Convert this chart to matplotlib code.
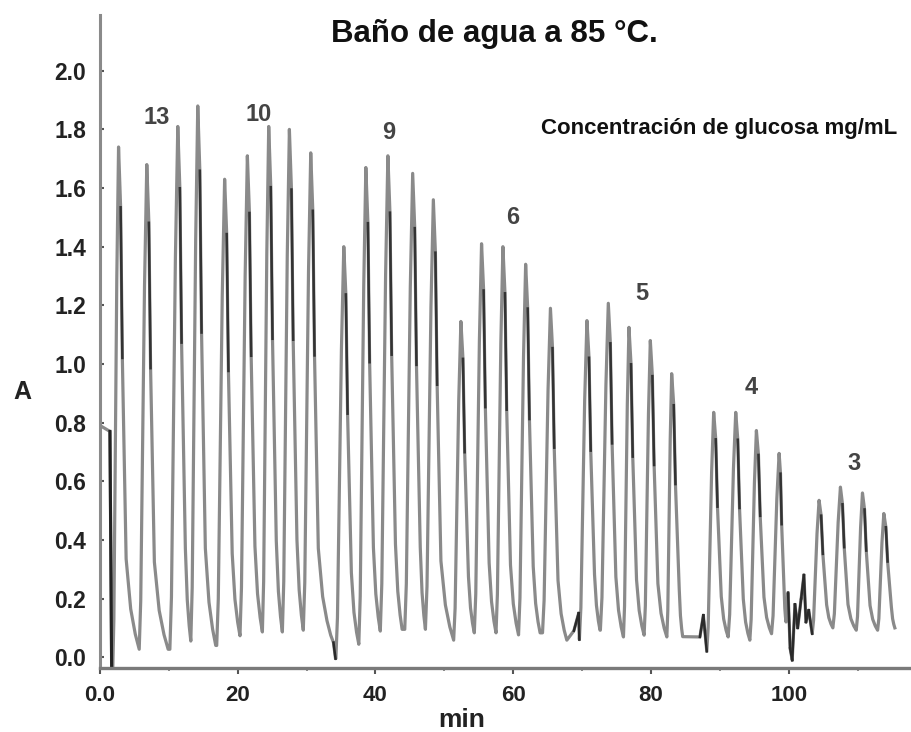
import numpy as np
import matplotlib.pyplot as plt

plt.rcParams['font.family'] = ['Liberation Sans', 'DejaVu Sans']

# apex of every injection peak: time (min) and absorbance
peak_t = [2.7, 6.8, 11.3, 14.2, 18.1, 21.4, 24.5, 27.5, 30.6, 35.4, 38.6, 41.8,
          45.4, 48.4, 52.4, 55.4, 58.5, 61.8, 65.4, 70.7, 73.8, 76.8, 79.9, 83.0,
          89.1, 92.3, 95.3, 98.6, 104.4, 107.5, 110.7, 113.8]
peak_h = [1.74, 1.68, 1.81, 1.88, 1.63, 1.71, 1.81, 1.80, 1.72, 1.40, 1.67, 1.71,
          1.65, 1.56, 1.145, 1.41, 1.40, 1.34, 1.19, 1.148, 1.207, 1.125, 1.08, 0.967,
          0.835, 0.835, 0.773, 0.695, 0.535, 0.58, 0.56, 0.49]

# baseline minimum reached after each peak
valley_t = [5.70, 9.90, 13.19, 16.81, 20.33, 23.58, 26.48, 29.52, 33.5, 37.58, 40.7, 43.87,
            47.25, 51.35, 54.35, 57.5, 60.77, 63.9, 67.78, 72.6, 76.0, 79.0, 82.3, 84.6,
            91.2, 94.35, 97.5, 99.6, 106.4, 109.8, 112.9, 115.4]
valley_v = [0.027, 0.027, 0.055, 0.04, 0.073, 0.086, 0.086, 0.092, 0.075, 0.044, 0.089, 0.095,
            0.095, 0.058, 0.083, 0.083, 0.076, 0.083, 0.058, 0.092, 0.069, 0.075, 0.069, 0.07,
            0.069, 0.058, 0.08, 0.12, 0.10, 0.092, 0.092, 0.10]

# baseline glitches between injections
glitch_t = [33.9, 34.2, 68.8, 69.5, 69.6, 87.1, 87.6, 88.1,
            99.9, 100.2, 100.5, 100.9, 101.3, 101.8, 102.2, 102.5, 102.9, 103.4]
glitch_v = [0.05, -0.005, 0.09, 0.15, 0.06, 0.069, 0.143, 0.02,
            0.22, 0.03, -0.01, 0.18, 0.10, 0.20, 0.28, 0.12, 0.16, 0.08]

# beginning of the record, before the first injection
start_t = [0.0, 0.02, 1.45, 1.7, 1.85]
start_v = [-0.02, 0.79, 0.77, -0.05, -0.05]

# glucose concentration written over each group of peaks
conc_labels = ['13', '10', '9', '6', '5', '4', '3']
conc_x = [8.3, 23.0, 41.9, 59.9, 78.6, 94.6, 109.5]
conc_y = [1.84, 1.85, 1.79, 1.50, 1.24, 0.92, 0.66]

# peak profile: steep rise, fast drop, slow tail back to baseline
RISE = 1.15
rise_pos = [0.2, 0.45, 0.7]
rise_frac = [0.1, 0.42, 0.75]
fall_dt = [0.3, 0.55, 0.85, 1.1]
fall_frac = [0.88, 0.58, 0.36, 0.18]
tail_pos = [0.35, 0.7]
tail_frac = [0.08, 0.03]

t_pts = list(start_t)
v_pts = list(start_v)
is_glitch = [False] * len(t_pts)
dark = []
for i, (tp, hp) in enumerate(zip(peak_t, peak_h)):
    for gt, gv in zip(glitch_t, glitch_v):
        if t_pts[-1] < gt < tp:
            t_pts.append(gt)
            v_pts.append(gv)
            is_glitch.append(True)
    t0 = max(t_pts[-1], tp - RISE)
    v0 = v_pts[-1]
    seg = []
    if t0 > t_pts[-1]:
        seg.append((t0, v0))
    for p, f in zip(rise_pos, rise_frac):
        seg.append((t0 + p * (tp - t0), v0 + f * (hp - v0)))
    seg.append((tp, hp))

    tv, vv = valley_t[i], valley_v[i]
    k = min(1.0, (tv - tp) / 1.5)
    fall = [(tp + dt * k, vv + f * (hp - vv)) for dt, f in zip(fall_dt, fall_frac)]
    seg += fall
    tail0 = fall[-1][0]
    for p, f in zip(tail_pos, tail_frac):
        seg.append((tail0 + p * (tv - tail0), vv + f * (hp - vv)))
    seg.append((tv, vv))
    for t, v in seg:
        t_pts.append(t)
        v_pts.append(v)
        is_glitch.append(False)
    # darker stroke on the upper part of the falling edge
    dark.append(([fall[0][0], fall[1][0]], [fall[0][1], fall[1][1]]))

fig = plt.figure(figsize=(9.12, 7.32), dpi=100)
ax = fig.add_axes([0.1096, 0.0874, 0.8882, 0.892])

ax.plot(t_pts, v_pts, color='#8a8a8a', lw=2.3)
for dt_, dv_ in dark:
    ax.plot(dt_, dv_, color='#333333', lw=1.8)
# noisy stretches of baseline show up darker
for j in range(1, len(t_pts)):
    if is_glitch[j] and is_glitch[j - 1]:
        ax.plot(t_pts[j - 1:j + 1], v_pts[j - 1:j + 1], color='#2a2a2a', lw=1.8)
ax.plot(start_t[2:4], start_v[2:4], color='#222222', lw=2.2)
ax.plot(start_t[:2], start_v[:2], color='#333333', lw=2.0)

ax.set_xlim(0, 117.6)
ax.set_ylim(-0.037, 2.19)

for s in ['top', 'right']:
    ax.spines[s].set_visible(False)
ax.spines['left'].set_color('#8a8a8a')
ax.spines['left'].set_linewidth(2.2)
ax.spines['bottom'].set_color('#7a7a7a')
ax.spines['bottom'].set_linewidth(2.4)

ax.set_yticks(np.arange(0, 2.01, 0.2))
ax.set_yticklabels([f'{v:.1f}' for v in np.arange(0, 2.01, 0.2)])
ax.set_xticks([0, 20, 40, 60, 80, 100])
ax.set_xticklabels(['0.0', '20', '40', '60', '80', '100'])
ax.set_xticks(np.arange(10, 120, 20), minor=True)
ax.tick_params(axis='y', direction='in', length=3, width=1.5, color='#555555',
               pad=10, labelsize=16.5, labelcolor='#222222')
ax.tick_params(axis='x', which='major', direction='out', length=4, width=1.5,
               color='#555555', pad=8, labelsize=16, labelcolor='#222222')
ax.tick_params(axis='x', which='minor', direction='out', length=2, width=1.2,
               color='#777777')
for lab in ax.get_xticklabels() + ax.get_yticklabels():
    lab.set_fontweight('bold')

ax.set_ylabel('A', rotation=0, fontsize=18, fontweight='bold', color='#222222',
              va='center', ha='center')
ax.yaxis.set_label_coords(-0.0963, 0.4227)
ax.set_xlabel('min', fontsize=19, fontweight='bold', color='#222222', va='center')
ax.xaxis.set_label_coords(0.447, -0.0796)

for lab, x, y in zip(conc_labels, conc_x, conc_y):
    ax.text(x, y, lab, fontsize=17, fontweight='bold', color='#444444',
            ha='center', va='center')

fig.text(494 / 912, 1 - 42 / 732, 'Baño de agua a 85 °C.', fontsize=22.5,
         fontweight='bold', ha='center', va='baseline', color='#111111')
fig.text(541 / 912, 1 - 134 / 732, 'Concentración de glucosa mg/mL', fontsize=16,
         fontweight='bold', ha='left', va='baseline', color='#111111')

fig.savefig('out.png', dpi=100)
